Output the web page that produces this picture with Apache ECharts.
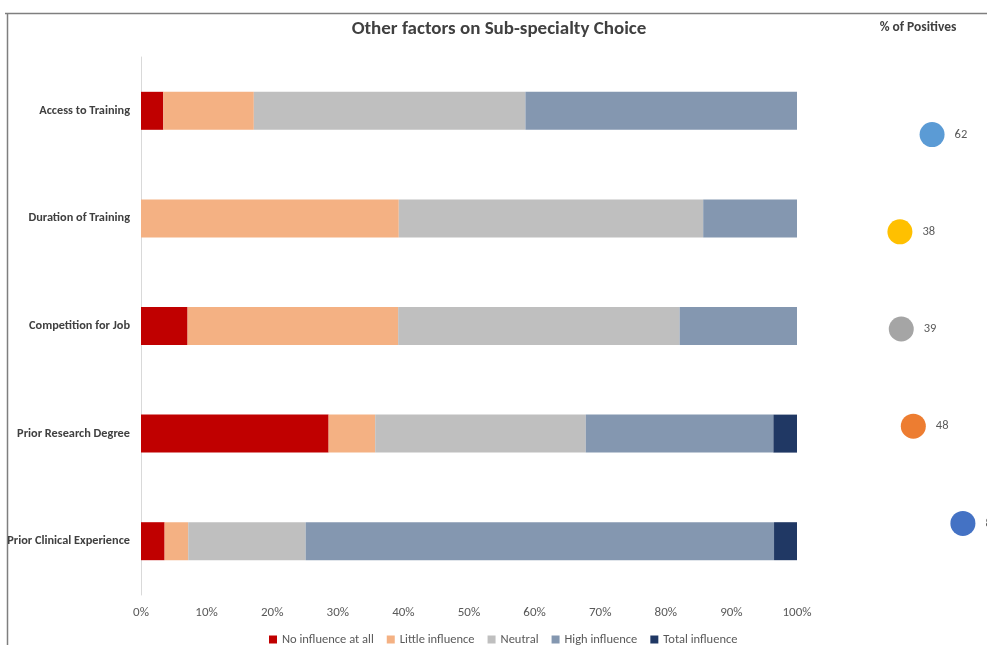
<!DOCTYPE html>
<html><head><meta charset="utf-8">
<script src="https://cdn.jsdelivr.net/npm/echarts@6/dist/echarts.min.js"></script>
<style>html,body{margin:0;padding:0;background:#fff}#c{width:987px;height:645px}</style>
</head><body><div id="c"></div>
<script>
const categories = ['Access to Training','Duration of Training','Competition for Job','Prior Research Degree','Prior Clinical Experience'];
const seriesNames = ['No influence at all','Little influence','Neutral','High influence','Total influence'];
const noInfluence = [3.4, 0, 7.1, 28.6, 3.6];
const littleInfluence = [13.8, 39.3, 32.1, 7.1, 3.6];
const neutral = [41.4, 46.4, 42.9, 32.1, 17.9];
const highInfluence = [41.4, 14.3, 17.9, 28.6, 71.4];
const totalInfluence = [0, 0, 0, 3.6, 3.6];
const positives = [62, 38, 39, 48, 85];
const xTicks = [0,10,20,30,40,50,60,70,80,90,100];

const barColors = ['#C00000','#F4B183','#BFBFBF','#8497B0','#203864'];
const dotColors = ['#5B9BD5','#FFC000','#A5A5A5','#ED7D31','#4472C4'];
const values = [noInfluence, littleInfluence, neutral, highInfluence, totalInfluence];

const chart = echarts.init(document.getElementById('c'), null, {renderer:'canvas'});
const font = 'Calibri, Carlito, "Liberation Sans", "Open Sans", sans-serif';
const barSeries = seriesNames.map((n,i)=>({
  name:n, type:'bar', stack:'s', xAxisIndex:0, yAxisIndex:0,
  barWidth:38, itemStyle:{color:barColors[i]}, data:values[i], animation:false
}));
chart.setOption({
  animation:false,
  textStyle:{fontFamily:font},
  title:[
    {text:'Other factors on Sub-specialty Choice', left:494, top:15, textAlign:'center',
     textStyle:{fontSize:19, fontWeight:'bold', color:'#404040', fontFamily:font}},
    {text:'% of Positives', left:913, top:16, textAlign:'center',
     textStyle:{fontSize:13.5, fontWeight:'bold', color:'#404040', fontFamily:font}}
  ],
  graphic:[
    {type:'line', shape:{x1:5,y1:13.5,x2:987,y2:13.5}, style:{stroke:'#7f7f7f', lineWidth:1.5}},
    {type:'line', shape:{x1:7.5,y1:13,x2:7.5,y2:645}, style:{stroke:'#7f7f7f', lineWidth:1.5}}
  ],
  legend:{
    data:seriesNames, top:628, itemWidth:8, itemHeight:8, itemGap:13,
    icon:'rect', textStyle:{fontSize:12.5, color:'#595959', fontFamily:font},
    left:264
  },
  grid:[
    {left:141, right:190, top:57, bottom:50, containLabel:false},
    {left:849, right:4, top:86, bottom:73, containLabel:false}
  ],
  xAxis:[
    {type:'value', gridIndex:0, min:0, max:100, interval:10,
     axisLine:{show:false}, axisTick:{show:false}, splitLine:{show:false},
     axisLabel:{formatter:v=>v+'%', fontSize:13, color:'#595959', margin:11, fontFamily:font}},
    {type:'value', gridIndex:1, min:0, max:100, show:false}
  ],
  yAxis:[
    {type:'category', gridIndex:0, data:categories, inverse:true,
     axisLine:{show:true, lineStyle:{color:'#D9D9D9'}}, axisTick:{show:false},
     axisLabel:{fontSize:12.3, fontWeight:'bold', color:'#404040', margin:11, fontFamily:font}},
    {type:'category', gridIndex:1, data:categories, inverse:true, show:false}
  ],
  series:barSeries.concat([{
    type:'scatter', xAxisIndex:1, yAxisIndex:1, symbolSize:25,
    data:positives.map((v,i)=>({value:[v,categories[i]], itemStyle:{color:dotColors[i], opacity:1}})),
    label:{show:true, position:'right', distance:10, formatter:p=>p.value[0], fontSize:12.5, color:'#595959', fontFamily:font}
  }])
});
</script></body></html>
